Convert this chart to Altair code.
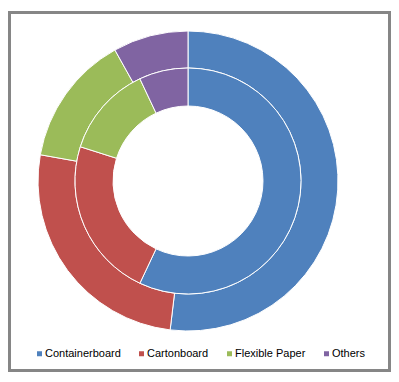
import altair as alt
import pandas as pd

categories = ["Containerboard", "Cartonboard", "Flexible Paper", "Others"]
outer_values = [51.9, 25.9, 14.1, 8.1]
inner_values = [57.0, 22.9, 13.1, 7.0]
colors = ["#4F81BD", "#C0504D", "#9BBB59", "#8064A2"]

rows = []
for i, c in enumerate(categories):
    rows.append({"ring": "outer", "category": c, "value": outer_values[i], "idx": i})
    rows.append({"ring": "inner", "category": c, "value": inner_values[i], "idx": i})
df = pd.DataFrame(rows)

color = alt.Color(
    "category:N",
    scale=alt.Scale(domain=categories, range=colors),
    sort=categories,
    legend=alt.Legend(
        title=None, orient="none", legendX=26, legendY=340,
        direction="horizontal", symbolType="square", symbolSize=25,
        symbolStrokeWidth=0, labelFont="Liberation Sans", labelFontSize=11,
        labelColor="#000000", columnPadding=15, labelOffset=0, padding=0,
    ),
)

base = alt.Chart(df)

outer = base.transform_filter(alt.datum.ring == "outer").mark_arc(
    radius=150, radius2=113, stroke="white", strokeWidth=1
).encode(
    theta=alt.Theta("value:Q", stack=True),
    color=color,
    order=alt.Order("idx:Q"),
    x=alt.value(180),
    y=alt.value(173),
)

inner = base.transform_filter(alt.datum.ring == "inner").mark_arc(
    radius=113, radius2=75, stroke="white", strokeWidth=1
).encode(
    theta=alt.Theta("value:Q", stack=True),
    color=color,
    order=alt.Order("idx:Q"),
    x=alt.value(180),
    y=alt.value(173),
)

border = alt.Chart(pd.DataFrame({"a": [0]})).mark_rect(
    filled=False, stroke="#868686", strokeWidth=3
).encode(
    x=alt.value(1.5), x2=alt.value(381.5), y=alt.value(4.5), y2=alt.value(362.5)
)

chart = alt.layer(border, outer, inner).resolve_scale(theta="independent").properties(
    width=383, height=366, autosize=alt.AutoSizeParams(type="none"), padding=0,
    background="white"
).configure_view(stroke=None)

chart.save("out.html", embed_options={"renderer": "svg", "actions": False})
